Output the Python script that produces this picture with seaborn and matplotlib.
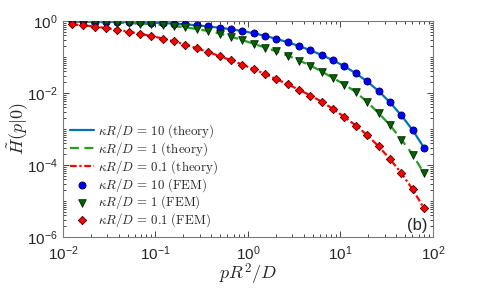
import numpy as np
import pandas as pd
import matplotlib
matplotlib.use("Agg")
import matplotlib.pyplot as plt
import seaborn as sns
from matplotlib.ticker import FixedLocator, LogLocator, NullFormatter

# p R^2 / D sample points (FEM and theory share them)
p_vals = [0.0125, 0.01658, 0.02200, 0.02919, 0.03873, 0.05138, 0.06817, 0.09045,
          0.1200, 0.1592, 0.2112, 0.2802, 0.3718, 0.4933, 0.6545, 0.8683,
          1.152, 1.528, 2.027, 2.690, 3.569, 4.735, 6.282, 8.335,
          11.06, 14.67, 19.46, 25.82, 34.26, 45.45, 60.30, 80.0]

# H(p|0) for kappa R / D = 10, 1, 0.1
h_k10 = [0.981, 0.975, 0.968, 0.962, 0.950, 0.938, 0.920, 0.903,
         0.880, 0.847, 0.810, 0.760, 0.708, 0.652, 0.592, 0.528,
         0.458, 0.388, 0.320, 0.258, 0.202, 0.1535, 0.1136, 0.0810,
         0.0552, 0.0352, 0.0209, 0.01137, 0.00552, 0.00240, 0.000938, 0.000302]
h_k1 = [0.962, 0.950, 0.938, 0.920, 0.903, 0.880, 0.852, 0.820,
        0.779, 0.726, 0.668, 0.599, 0.528, 0.449, 0.371, 0.297,
        0.2326, 0.1836, 0.1440, 0.1101, 0.0799, 0.0581, 0.0396, 0.0261,
        0.0172, 0.01066, 0.00562, 0.00278, 0.00129, 0.000511, 0.000196, 0.0000588]
h_k01 = [0.810, 0.760, 0.703, 0.639, 0.570, 0.504, 0.441, 0.383,
         0.327, 0.270, 0.2225, 0.1745, 0.1377, 0.1066, 0.0815, 0.0619,
         0.0464, 0.0337, 0.0245, 0.01745, 0.01235, 0.00852, 0.00573, 0.00359,
         0.00215, 0.00125, 0.000681, 0.000331, 0.000147, 0.0000600, 0.0000211, 0.00000627]

kappa_labels = ["10", "1", "0.1"]

sns.set_style("ticks")
plt.rcParams["font.family"] = ["Liberation Sans", "DejaVu Sans"]
plt.rcParams["mathtext.fontset"] = "cm"

fig = plt.figure(figsize=(4.8, 2.88), dpi=100)
ax = fig.add_axes([0.131, 0.177, 0.771, 0.750])

series = [h_k10, h_k1, h_k01]
line_styles = [
    dict(color="#0072BD", linestyle="-", linewidth=1.6),
    dict(color="#22A022", linestyle=(0, (4, 2.5)), linewidth=1.6),
    dict(color="#FF0000", linestyle=(0, (3, 1.2, 1, 1.2)), linewidth=1.6),
]
marker_styles = [
    dict(marker="o", color="#0000FF", edgecolor="#00004d", s=26),
    dict(marker="v", color="#006400", edgecolor="#002000", s=30),
    dict(marker="D", color="#FF0000", edgecolor="#4d0000", s=18),
]

line_handles = []
for h, st in zip(series, line_styles):
    df = pd.DataFrame({"p": p_vals, "H": h})
    sns.lineplot(data=df, x="p", y="H", ax=ax, **st)
    line_handles.append(ax.lines[-1])

marker_handles = []
for h, st in zip(series, marker_styles):
    df = pd.DataFrame({"p": p_vals, "H": h})
    sns.scatterplot(data=df, x="p", y="H", ax=ax, linewidth=0.6, zorder=3, **st)
    marker_handles.append(ax.collections[-1])

ax.set_xscale("log")
ax.set_yscale("log")
ax.set_xlim(1e-2, 1e2)
ax.set_ylim(1e-6, 1.0)

ax.yaxis.set_major_locator(FixedLocator([1e-6, 1e-4, 1e-2, 1e0]))
ax.yaxis.set_minor_locator(LogLocator(base=10, subs=np.arange(1, 10), numticks=20))
ax.yaxis.set_minor_formatter(NullFormatter())
ax.xaxis.set_major_locator(FixedLocator([1e-2, 1e-1, 1e0, 1e1, 1e2]))
ax.xaxis.set_minor_locator(LogLocator(base=10, subs=np.arange(2, 10), numticks=20))
ax.xaxis.set_minor_formatter(NullFormatter())

ax.tick_params(which="both", direction="in", top=True, right=True, colors="#262626",
               labelsize=11, width=0.6)
ax.tick_params(which="major", length=4)
ax.tick_params(which="minor", length=2)
ax.tick_params(axis="x", which="major", pad=5)
for sp in ax.spines.values():
    sp.set_color("#7a7a7a")
    sp.set_linewidth(0.8)

ax.set_xlabel(r"$pR^2/D$", fontsize=13)
ax.set_ylabel(r"$\tilde{H}(p|0)$", fontsize=13)
ax.xaxis.set_label_coords(0.5, -0.115)
ax.yaxis.set_label_coords(-0.09, 0.5)

labels = [r"$\kappa R/D\,=\,%s\ \mathrm{(theory)}$" % k for k in kappa_labels] + \
         [r"$\kappa R/D\,=\,%s\ \mathrm{(FEM)}$" % k for k in kappa_labels]
ax.legend(line_handles + marker_handles, labels, loc="lower left",
          bbox_to_anchor=(0.005, 0.012), frameon=False, fontsize=9.3,
          handlelength=1.9, handletextpad=0.3, labelspacing=0.0,
          borderaxespad=0.0)

ax.text(0.985, 0.02, "(b)", transform=ax.transAxes, ha="right", va="bottom",
        fontsize=12, color="#262626")

fig.savefig("out.png", dpi=100)
